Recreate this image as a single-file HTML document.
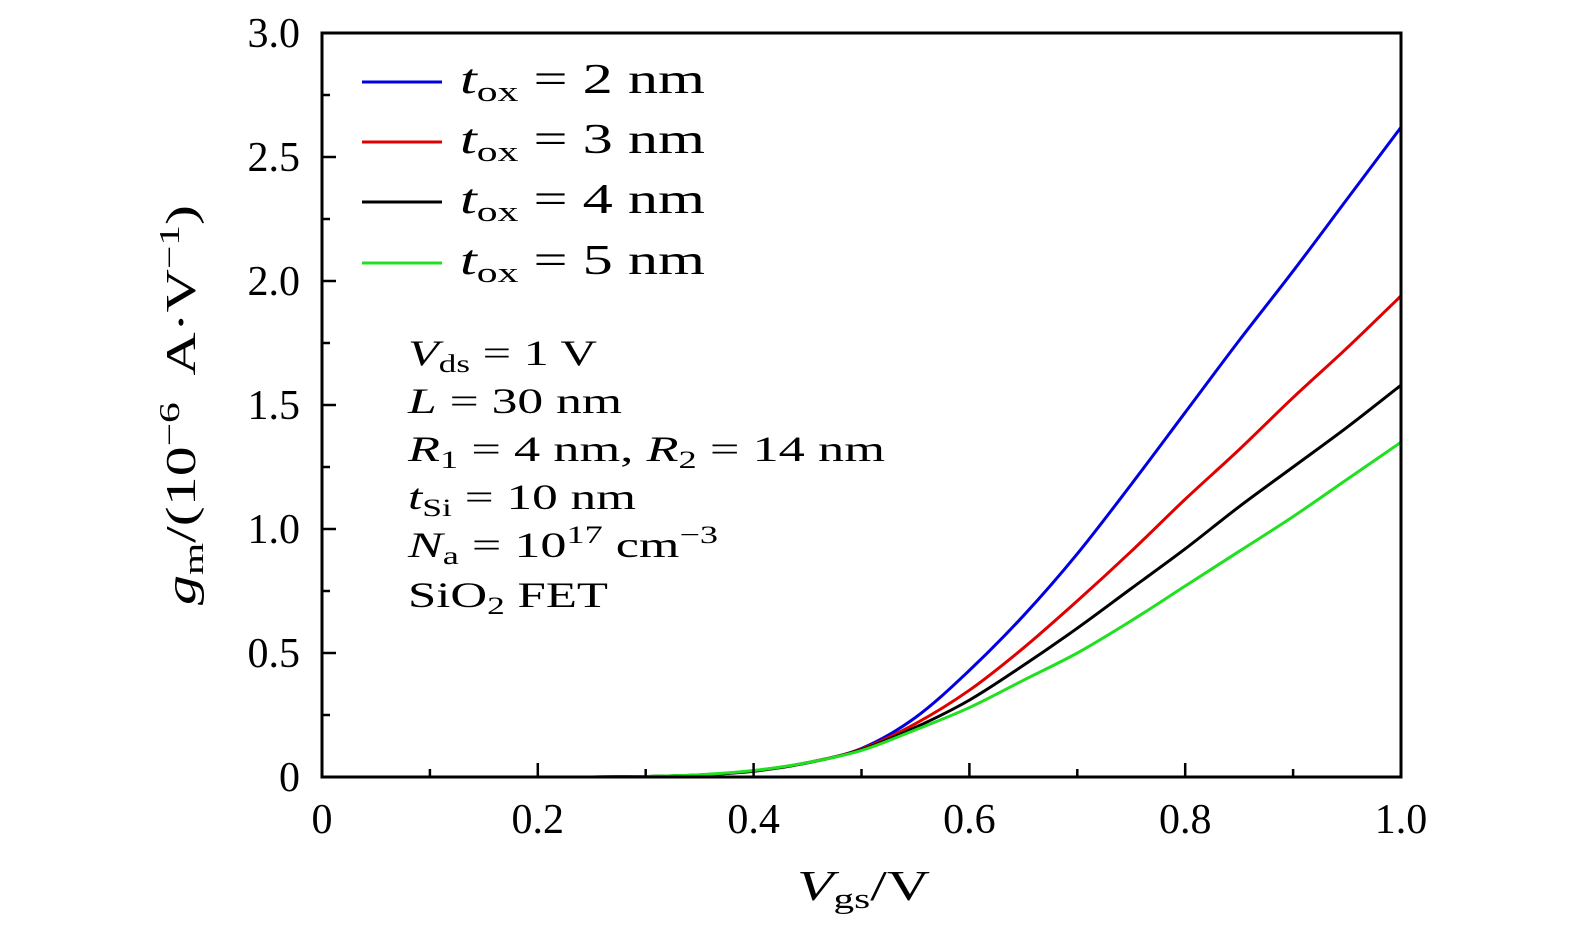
<!DOCTYPE html>
<html><head><meta charset="utf-8"><style>
html,body{margin:0;padding:0;background:#fff;overflow:hidden;width:1575px;height:935px}
svg{display:block;font-family:"Liberation Serif",serif}
</style></head><body>
<svg id="chart" width="1575" height="935" viewBox="0 0 1575 935" xmlns="http://www.w3.org/2000/svg">
<g id="plot"></g>
<g font-size="42" style="white-space:pre">
 <line x1="362" y1="82" x2="442" y2="82" stroke="#0000e0" stroke-width="3"/>
 <text x="460" y="93" textLength="245" lengthAdjust="spacingAndGlyphs"><tspan font-style="italic">t</tspan><tspan font-size="29" dy="8">ox</tspan><tspan dy="-8"> = 2  nm</tspan></text>
 <line x1="362" y1="142" x2="442" y2="142" stroke="#e00000" stroke-width="3"/>
 <text x="460" y="153" textLength="245" lengthAdjust="spacingAndGlyphs"><tspan font-style="italic">t</tspan><tspan font-size="29" dy="8">ox</tspan><tspan dy="-8"> = 3  nm</tspan></text>
 <line x1="362" y1="202" x2="442" y2="202" stroke="#000" stroke-width="3"/>
 <text x="460" y="213" textLength="245" lengthAdjust="spacingAndGlyphs"><tspan font-style="italic">t</tspan><tspan font-size="29" dy="8">ox</tspan><tspan dy="-8"> = 4  nm</tspan></text>
 <line x1="362" y1="263" x2="442" y2="263" stroke="#20e020" stroke-width="3"/>
 <text x="460" y="274" textLength="245" lengthAdjust="spacingAndGlyphs"><tspan font-style="italic">t</tspan><tspan font-size="29" dy="8">ox</tspan><tspan dy="-8"> = 5  nm</tspan></text>
</g>
<g font-size="36" style="white-space:pre">
 <text x="408" y="365" textLength="189" lengthAdjust="spacingAndGlyphs"><tspan font-style="italic">V</tspan><tspan font-size="25" dy="7">ds</tspan><tspan dy="-7"> = 1  V</tspan></text>
 <text x="408" y="413" textLength="214" lengthAdjust="spacingAndGlyphs"><tspan font-style="italic">L</tspan> = 30  nm</text>
 <text x="408" y="461" textLength="477" lengthAdjust="spacingAndGlyphs"><tspan font-style="italic">R</tspan><tspan font-size="25" dy="7">1</tspan><tspan dy="-7"> = 4  nm,  </tspan><tspan font-style="italic">R</tspan><tspan font-size="25" dy="7">2</tspan><tspan dy="-7"> = 14  nm</tspan></text>
 <text x="408" y="509" textLength="228" lengthAdjust="spacingAndGlyphs"><tspan font-style="italic">t</tspan><tspan font-size="25" dy="7">Si</tspan><tspan dy="-7"> = 10  nm</tspan></text>
 <text x="408" y="557" textLength="310" lengthAdjust="spacingAndGlyphs"><tspan font-style="italic">N</tspan><tspan font-size="25" dy="7">a</tspan><tspan dy="-7"> = 10</tspan><tspan font-size="25" dy="-14">17</tspan><tspan dy="14">  cm</tspan><tspan font-size="25" dy="-14">−3</tspan></text>
 <text x="408" y="607" textLength="200" lengthAdjust="spacingAndGlyphs">SiO<tspan font-size="25" dy="7">2</tspan><tspan dy="-7">  FET</tspan></text>
</g>
<text x="797" y="900" font-size="42" textLength="133" lengthAdjust="spacingAndGlyphs"><tspan font-style="italic">V</tspan><tspan font-size="29" dy="8">gs</tspan><tspan dy="-8">/V</tspan></text>
<text transform="translate(195,605) rotate(-90)" font-size="42" textLength="400" lengthAdjust="spacingAndGlyphs" style="white-space:pre"><tspan font-style="italic">g</tspan><tspan font-size="29" dy="8">m</tspan><tspan dy="-8">/(10</tspan><tspan font-size="29" dy="-16">−6</tspan><tspan dy="16">  A·V</tspan><tspan font-size="29" dy="-16">−1</tspan><tspan dy="16">)</tspan></text>
</svg>
<script>
const xs=[0,0.1,0.2,0.25,0.3,0.35,0.4,0.45,0.5,0.55,0.6,0.65,0.7,0.75,0.8,0.85,0.9,0.95,1.0];
const blue =[0,0,0,0,0.002,0.008,0.025,0.058,0.115,0.24,0.43,0.65,0.9,1.18,1.47,1.76,2.04,2.33,2.62];
const red  =[0,0,0,0,0.002,0.008,0.025,0.058,0.113,0.215,0.35,0.52,0.71,0.91,1.12,1.32,1.53,1.73,1.94];
const black=[0,0,0,0,0.002,0.008,0.023,0.057,0.11,0.2,0.31,0.45,0.6,0.76,0.92,1.09,1.25,1.41,1.58];
const green=[0,0,0,0,0.002,0.009,0.026,0.058,0.107,0.19,0.28,0.39,0.5,0.63,0.77,0.91,1.05,1.2,1.35];
const xTicks=[0,0.2,0.4,0.6,0.8,1.0];
const xTickLabels=["0","0.2","0.4","0.6","0.8","1.0"];
const yTicks=[0,0.5,1.0,1.5,2.0,2.5,3.0];
const yTickLabels=["0","0.5","1.0","1.5","2.0","2.5","3.0"];
const X0=322,X1=1401,Y0=777,Y1=33;
const sx=v=>X0+(X1-X0)*v, sy=v=>Y0-(Y0-Y1)*v/3;
const NS="http://www.w3.org/2000/svg", g=document.getElementById('plot');
function mk(t,a){const e=document.createElementNS(NS,t);for(const k in a)e.setAttribute(k,a[k]);g.appendChild(e);return e;}
const series=[[blue,'#0000e0','curve-tox-2nm'],[red,'#e00000','curve-tox-3nm'],[black,'#000','curve-tox-4nm'],[green,'#20e020','curve-tox-5nm']];
function smooth(pts){let d=`M${pts[0][0]},${pts[0][1]}`;for(let i=0;i<pts.length-1;i++){const p0=pts[Math.max(i-1,0)],p1=pts[i],p2=pts[i+1],p3=pts[Math.min(i+2,pts.length-1)];d+=` C${p1[0]+(p2[0]-p0[0])/6},${p1[1]+(p2[1]-p0[1])/6} ${p2[0]-(p3[0]-p1[0])/6},${p2[1]-(p3[1]-p1[1])/6} ${p2[0]},${p2[1]}`;}return d;}
for(const [vals,col,name] of series){
 const p=mk('path',{d:smooth(xs.map((x,i)=>[sx(x),sy(vals[i])])),fill:'none',stroke:col,'stroke-width':3});
 
 
}
const frame=mk('rect',{x:X0,y:Y1,width:X1-X0,height:Y0-Y1,fill:'none',stroke:'#000','stroke-width':3});


for(let i=0;i<=10;i++){const v=i/10,maj=i%2==0;const t=mk('line',{x1:sx(v),x2:sx(v),y1:Y0,y2:Y0-(maj?14:8),stroke:'#000','stroke-width':2.5});
 
 }
for(let i=0;i<=12;i++){const v=i/4,maj=i%2==0;const t=mk('line',{x1:X0,x2:X0+(maj?14:8),y1:sy(v),y2:sy(v),stroke:'#000','stroke-width':2.5});
 
 }
xTicks.forEach((v,i)=>{const t=mk('text',{x:sx(v),y:833,'font-size':42,'text-anchor':'middle'});t.textContent=xTickLabels[i];
 
 });
yTicks.forEach((v,i)=>{const t=mk('text',{x:300,y:sy(v)+14,'font-size':42,'text-anchor':'end'});t.textContent=yTickLabels[i];
 
 });
</script>
</body></html>
